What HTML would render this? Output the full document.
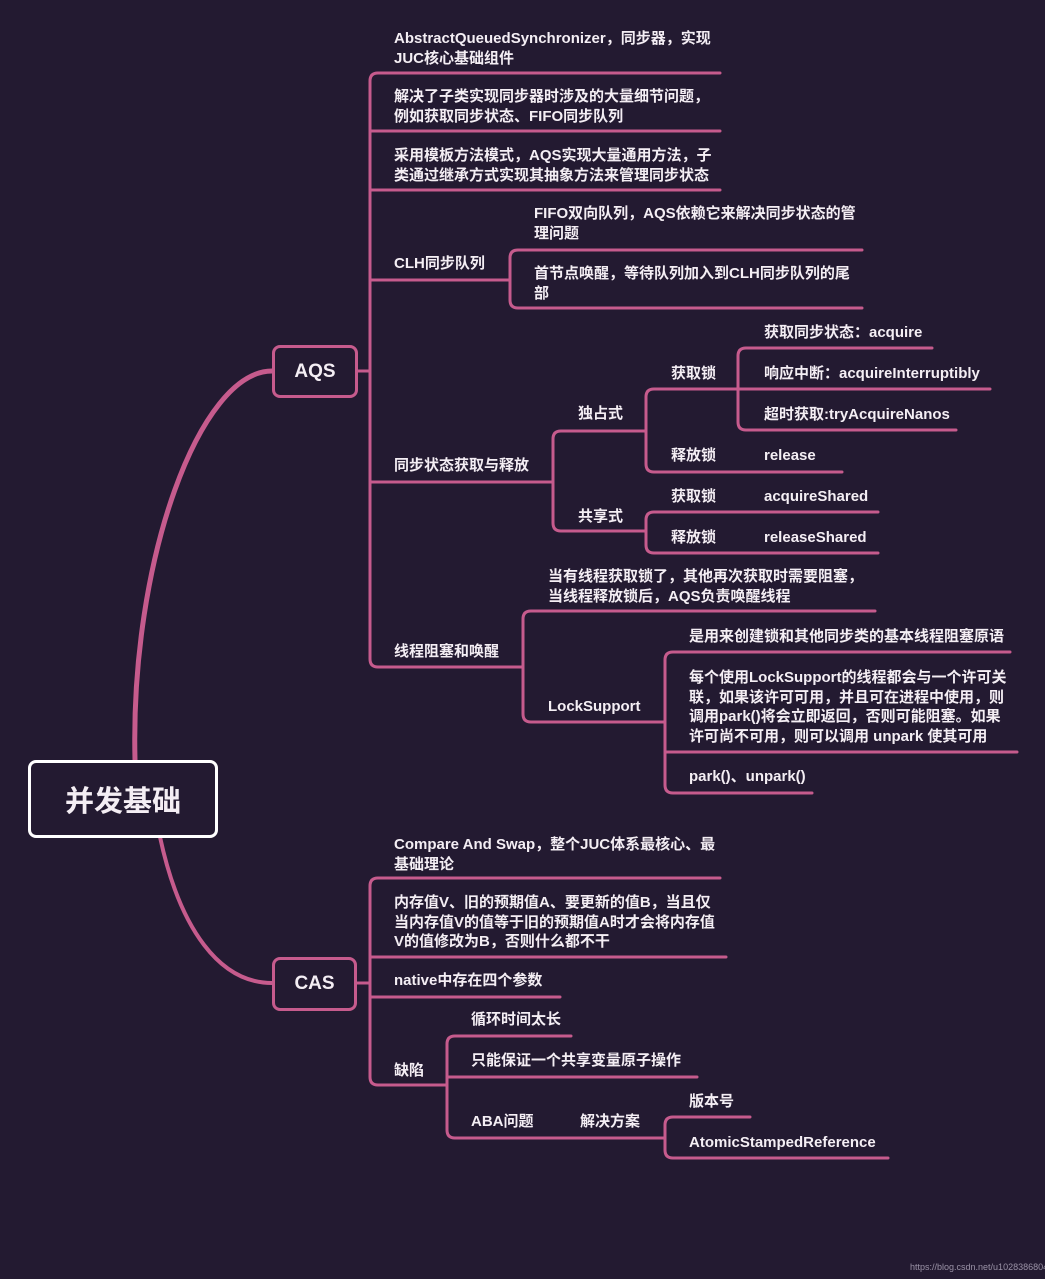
<!DOCTYPE html>
<html><head><meta charset="utf-8"><style>
html,body{margin:0;padding:0;}
body{width:1045px;height:1279px;background:#231a31;position:relative;overflow:hidden;font-family:"Liberation Sans","Noto Sans CJK SC",sans-serif;color:#f4eef4;}
.t{position:absolute;font-size:15px;font-weight:bold;line-height:19.5px;white-space:nowrap;}
.box{position:absolute;box-sizing:border-box;border-radius:8px;background:#231a31;display:flex;align-items:center;justify-content:center;font-weight:bold;}
svg{position:absolute;left:0;top:0;}
</style></head><body>
<svg width="1045" height="1279" fill="none" stroke="#c65b8d" stroke-width="3" stroke-linecap="round">
<path d="M135 760 C130 560 200 371 272 371" stroke-width="5"/>
<path d="M160 837 C180 930 220 983 272 983" stroke-width="4"/>
<path d="M720 73 H378 Q370 73 370 81 V659 Q370 667 378 667 H523"/>
<path d="M370 131 H720 M370 190 H720 M370 280 H510 M370 482 H553 M357 371 H370"/>
<path d="M862 250 H518 Q510 250 510 258 V300 Q510 308 518 308 H862"/>
<path d="M646 431 H561 Q553 431 553 439 V523 Q553 531 561 531 H646"/>
<path d="M738 389 H654 Q646 389 646 397 V464 Q646 472 654 472 H842"/>
<path d="M932 348 H746 Q738 348 738 356 V422 Q738 430 746 430 H956 M738 389 H990"/>
<path d="M878 512 H654 Q646 512 646 520 V545 Q646 553 654 553 H878"/>
<path d="M875 611 H531 Q523 611 523 619 V714 Q523 722 531 722 H665"/>
<path d="M1010 652 H673 Q665 652 665 660 V785 Q665 793 673 793 H812 M665 752 H1017"/>
<path d="M720 878 H378 Q370 878 370 886 V1077 Q370 1085 378 1085 H447 M370 957 H726 M370 997 H560 M356 983 H370"/>
<path d="M571 1036 H455 Q447 1036 447 1044 V1130 Q447 1138 455 1138 H665 M447 1077 H697"/>
<path d="M750 1117 H673 Q665 1117 665 1125 V1150 Q665 1158 673 1158 H888"/>
</svg>
<div class="box" style="left:28px;top:760px;width:190px;height:78px;border:3px solid #fff;font-size:29px;">并发基础</div>
<div class="box" style="left:272px;top:345px;width:86px;height:53px;border:3px solid #c65b8d;font-size:19px;">AQS</div>
<div class="box" style="left:272px;top:957px;width:85px;height:54px;border:3px solid #c65b8d;font-size:19px;">CAS</div>

<div class="t" style="left:394px;top:29px;">AbstractQueuedSynchronizer，同步器，实现<br>JUC核心基础组件</div>
<div class="t" style="left:394px;top:87px;">解决了子类实现同步器时涉及的大量细节问题，<br>例如获取同步状态、FIFO同步队列</div>
<div class="t" style="left:394px;top:146px;">采用模板方法模式，AQS实现大量通用方法，子<br>类通过继承方式实现其抽象方法来管理同步状态</div>
<div class="t" style="left:394px;top:254px;">CLH同步队列</div>
<div class="t" style="left:534px;top:204px;">FIFO双向队列，AQS依赖它来解决同步状态的管<br>理问题</div>
<div class="t" style="left:534px;top:264px;">首节点唤醒，等待队列加入到CLH同步队列的尾<br>部</div>
<div class="t" style="left:394px;top:456px;">同步状态获取与释放</div>
<div class="t" style="left:578px;top:404px;">独占式</div>
<div class="t" style="left:578px;top:507px;">共享式</div>
<div class="t" style="left:671px;top:364px;">获取锁</div>
<div class="t" style="left:671px;top:446px;">释放锁</div>
<div class="t" style="left:671px;top:487px;">获取锁</div>
<div class="t" style="left:671px;top:528px;">释放锁</div>
<div class="t" style="left:764px;top:323px;">获取同步状态：acquire</div>
<div class="t" style="left:764px;top:364px;">响应中断：acquireInterruptibly</div>
<div class="t" style="left:764px;top:405px;">超时获取:tryAcquireNanos</div>
<div class="t" style="left:764px;top:446px;">release</div>
<div class="t" style="left:764px;top:487px;">acquireShared</div>
<div class="t" style="left:764px;top:528px;">releaseShared</div>
<div class="t" style="left:394px;top:642px;">线程阻塞和唤醒</div>
<div class="t" style="left:548px;top:567px;">当有线程获取锁了，其他再次获取时需要阻塞，<br>当线程释放锁后，AQS负责唤醒线程</div>
<div class="t" style="left:548px;top:697px;">LockSupport</div>
<div class="t" style="left:689px;top:627px;">是用来创建锁和其他同步类的基本线程阻塞原语</div>
<div class="t" style="left:689px;top:668px;">每个使用LockSupport的线程都会与一个许可关<br>联，如果该许可可用，并且可在进程中使用，则<br>调用park()将会立即返回，否则可能阻塞。如果<br>许可尚不可用，则可以调用 unpark 使其可用</div>
<div class="t" style="left:689px;top:767px;">park()、unpark()</div>

<div class="t" style="left:394px;top:835px;">Compare And Swap，整个JUC体系最核心、最<br>基础理论</div>
<div class="t" style="left:394px;top:893px;">内存值V、旧的预期值A、要更新的值B，当且仅<br>当内存值V的值等于旧的预期值A时才会将内存值<br>V的值修改为B，否则什么都不干</div>
<div class="t" style="left:394px;top:971px;">native中存在四个参数</div>
<div class="t" style="left:394px;top:1061px;">缺陷</div>
<div class="t" style="left:471px;top:1010px;">循环时间太长</div>
<div class="t" style="left:471px;top:1051px;">只能保证一个共享变量原子操作</div>
<div class="t" style="left:471px;top:1112px;">ABA问题</div>
<div class="t" style="left:580px;top:1112px;">解决方案</div>
<div class="t" style="left:689px;top:1092px;">版本号</div>
<div class="t" style="left:689px;top:1133px;">AtomicStampedReference</div>
<div style="position:absolute;left:910px;top:1262px;font-size:9px;color:#9a92a6;">https://blog.csdn.net/u1028386804</div>
</body></html>
